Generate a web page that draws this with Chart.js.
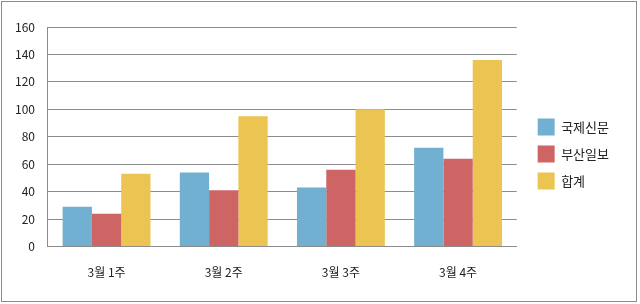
<!DOCTYPE html>
<html>
<head>
<meta charset="utf-8">
<script src="https://cdn.jsdelivr.net/npm/chart.js@4"></script>
<style>
  body { margin: 0; background: #fff; }
  #wrap { width: 640px; height: 304px; position: relative; }
</style>
</head>
<body>
<div id="wrap"><canvas id="grafico" width="640" height="304"></canvas></div>
<script>
const semanas = ['3월 1주', '3월 2주', '3월 3주', '3월 4주'];
const gukje = [29, 54, 43, 72];
const busan = [24, 41, 56, 64];
const hapgye = [53, 95, 100, 136];

const fonte = "'Noto Sans CJK KR', 'DejaVu Sans', sans-serif";

// moldura cinza em volta do grafico
const moldura = {
    id: 'moldura',
    beforeDraw(chart) {
        const ctx = chart.ctx;
        ctx.save();
        ctx.fillStyle = '#fff';
        ctx.fillRect(0, 0, chart.width, chart.height);
        ctx.strokeStyle = '#8c8c8c';
        ctx.lineWidth = 1;
        ctx.strokeRect(1.5, 1.5, 635, 300);
        ctx.restore();
    }
};

// empurra a legenda um pouco para a direita e para cima
const empurraLegenda = {
    id: 'empurraLegenda',
    afterLayout(chart) {
        const leg = chart.legend;
        leg.left += 11;
        leg.right += 11;
        leg.top -= 9;
        leg.bottom -= 9;
    }
};

const grafico = new Chart(document.getElementById('grafico'), {
    type: 'bar',
    data: {
        labels: semanas,
        datasets: [
            { label: '국제신문', data: gukje, backgroundColor: '#71b0d0' },
            { label: '부산일보', data: busan, backgroundColor: '#cc6564' },
            { label: '합계', data: hapgye, backgroundColor: '#ebc451' }
        ]
    },
    options: {
        responsive: false,
        animation: false,
        devicePixelRatio: 1,
        layout: { padding: { left: 2, top: 27, right: 32, bottom: 5 } },
        datasets: { bar: { categoryPercentage: 0.75, barPercentage: 1 } },
        plugins: {
            legend: {
                position: 'right',
                labels: {
                    boxWidth: 17,
                    boxHeight: 17,
                    padding: 10,
                    color: '#222',
                    font: { family: fonte, size: 13 }
                }
            },
            tooltip: { enabled: false }
        },
        scales: {
            x: {
                grid: { display: false, drawTicks: false },
                border: { color: '#8c8c8c' },
                ticks: { color: '#222', padding: 19, maxRotation: 0, font: { family: fonte, size: 12 } }
            },
            y: {
                min: 0,
                max: 160,
                ticks: { stepSize: 20, color: '#222', padding: 13, font: { family: fonte, size: 12 } },
                grid: { color: '#8c8c8c', drawTicks: false },
                border: { color: '#8c8c8c' }
            }
        }
    },
    plugins: [moldura, empurraLegenda]
});
</script>
</body>
</html>
